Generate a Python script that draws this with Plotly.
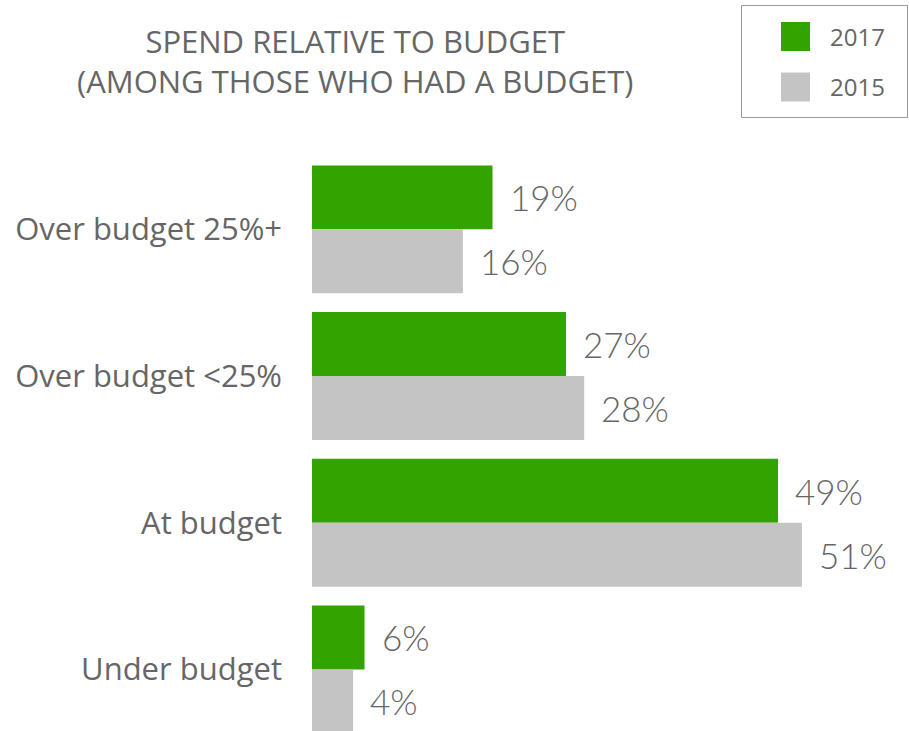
import plotly.graph_objects as go

categories = ["Over budget 25%+", "Over budget <25%", "At budget", "Under budget"]
series_names = ["2017", "2015"]
values_2017 = [18.9, 26.6, 48.8, 5.5]
values_2015 = [15.8, 28.5, 51.3, 4.3]
labels_2017 = ["19%", "27%", "49%", "6%"]
labels_2015 = ["16%", "28%", "51%", "4%"]

GREEN = "#33a300"
GRAY = "#c4c4c4"
TEXT = "#666666"
FONT = "Open Sans"
VFONT = "Lato"

W, H = 909, 731
ML, MR, MT, MB = 312, 0, 156, 0
PW, PH = W - ML - MR, H - MT - MB

XSCALE = 9.55   # px per percent
YSCALE = 146.7  # px per category
BW = 0.436


def px(x):
    return (x - ML) / PW


def py(y):
    return (H - MB - y) / PH


ypos = list(range(len(categories)))

fig = go.Figure()
fig.add_trace(go.Bar(
    name=series_names[0], y=ypos, x=values_2017, orientation="h",
    width=BW, offset=-BW, marker=dict(color=GREEN, line=dict(width=0)),
    showlegend=False, hoverinfo="x",
))
fig.add_trace(go.Bar(
    name=series_names[1], y=ypos, x=values_2015, orientation="h",
    width=BW, offset=0, marker=dict(color=GRAY, line=dict(width=0)),
    showlegend=False, hoverinfo="x",
))

# value labels
for vals, labs, off in [(values_2017, labels_2017, -BW / 2), (values_2015, labels_2015, BW / 2)]:
    for i, (v, t) in enumerate(zip(vals, labs)):
        fig.add_annotation(
            x=v, y=i + off, xref="x", yref="y", text=t, showarrow=False,
            xanchor="left", yanchor="middle", xshift=15,
            font=dict(family=VFONT, size=35, color=TEXT, weight=300),
        )

# title
fig.add_annotation(
    x=px(355), y=py(61), xref="paper", yref="paper",
    text="SPEND RELATIVE TO BUDGET<br>(AMONG THOSE WHO HAD A BUDGET)",
    showarrow=False, xanchor="center", yanchor="middle", align="center",
    font=dict(family=FONT, size=31, color=TEXT),
)

# legend box
fig.add_shape(type="rect", xref="paper", yref="paper",
              x0=px(741.5), x1=px(907.5), y0=py(5.5), y1=py(117.5),
              line=dict(color="#999999", width=1), fillcolor="rgba(0,0,0,0)")
for name, color, cy in [(series_names[0], GREEN, 36.5), (series_names[1], GRAY, 87)]:
    fig.add_shape(type="rect", xref="paper", yref="paper",
                  x0=px(781), x1=px(810), y0=py(cy - 14.5), y1=py(cy + 14.5),
                  line=dict(width=0), fillcolor=color)
    fig.add_annotation(x=px(828), y=py(cy), xref="paper", yref="paper",
                       text=name, showarrow=False, xanchor="left", yanchor="middle",
                       font=dict(family=FONT, size=24, color=TEXT))

fig.update_layout(
    width=W, height=H,
    margin=dict(l=ML, r=MR, t=MT, b=MB, pad=0),
    paper_bgcolor="white", plot_bgcolor="white",
    barmode="overlay",
    font=dict(family=FONT, color=TEXT),
    xaxis=dict(range=[0, PW / XSCALE], visible=False, fixedrange=True),
    yaxis=dict(
        range=[-0.5 + PH / YSCALE, -0.5], tickmode="array", tickvals=ypos,
        ticktext=categories, showgrid=False, zeroline=False, showline=False,
        ticks="", ticklabelstandoff=29, tickfont=dict(family=FONT, size=31, color=TEXT),
        fixedrange=True,
    ),
)

fig.write_html("out.html", config={"displayModeBar": False},
               post_script="document.body.style.margin='0px';")
